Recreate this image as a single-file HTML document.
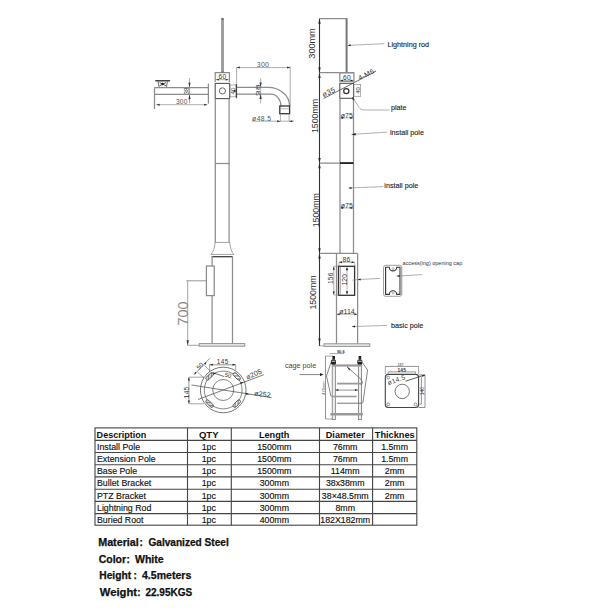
<!DOCTYPE html>
<html><head><meta charset="utf-8">
<style>
html,body{margin:0;padding:0;background:#fff;width:613px;height:613px;overflow:hidden}
svg{position:absolute;left:0;top:0;display:block}
text{font-family:"Liberation Sans",sans-serif}
</style></head><body>
<svg width="613" height="613" viewBox="0 0 613 613">
<rect width="613" height="613" fill="#fff"/>

<!-- ============ LEFT DRAWING ============ -->
<g id="A" fill="none" stroke="#8c8c8c" stroke-width="1.25">
  <!-- lightning rod -->
  <rect x="221.4" y="18.2" width="2.3" height="54.3" fill="#9a9a9a" stroke="#888" stroke-width="0.5"/>
  <rect x="221.5" y="18.2" width="2.1" height="1.8" rx="0.9" fill="#666" stroke="none"/>
  <!-- cap 60 -->
  <path d="M215.2 82 V72.6 H229.4 V82"/>
  <line x1="216" y1="79.7" x2="228.6" y2="79.7" stroke-width="0.7"/>
  <!-- bracket block -->
  <rect x="215.2" y="83.4" width="14.4" height="15.2" stroke="#555" stroke-width="1.1"/>
  <circle cx="222.4" cy="90.9" r="3.1" stroke="#555" stroke-width="0.9"/>
  <!-- upper pole -->
  <line x1="215.3" y1="98.6" x2="215.3" y2="242.4"/>
  <line x1="229.1" y1="98.6" x2="229.1" y2="242.4"/>
  <line x1="215.3" y1="163.5" x2="229.4" y2="163.5"/>
  <!-- flare -->
  <path d="M215 242.4 H229.7 Q230.5 251 234 254.4 H210.9 Q214.5 251 215 242.4 Z" stroke-width="0.8"/>
  <line x1="211.8" y1="256.7" x2="232.8" y2="256.7" stroke="#333" stroke-width="1.2"/>
  <!-- base pole -->
  <line x1="212.1" y1="256" x2="212.1" y2="343.6"/>
  <line x1="232.5" y1="256" x2="232.5" y2="343.6"/>
  <rect x="206.4" y="266" width="7.8" height="29.6" fill="#fff"/>
  <rect x="199.2" y="343.6" width="45.6" height="2.6" fill="#e6e6e6" stroke-width="0.9"/>
  <!-- 700 dim -->
  <line x1="186.4" y1="280.8" x2="206.4" y2="280.8" stroke-width="0.9"/>
  <line x1="187.7" y1="280.8" x2="187.7" y2="345.3" stroke-width="0.8"/>
  <line x1="187.4" y1="345.3" x2="199.2" y2="345.3" stroke-width="0.8"/>
  <!-- left arm -->
  <line x1="154.4" y1="87.5" x2="208.2" y2="87.5"/>
  <line x1="154.4" y1="94.4" x2="208.2" y2="94.4"/>
  <line x1="208.4" y1="83.6" x2="208.4" y2="103.6"/>
  <line x1="154.5" y1="87.5" x2="154.5" y2="109"/>
  <path d="M158 81.4 L159.1 87 M167.4 81.4 L166.5 87" stroke="#444" stroke-width="0.8"/>
  <line x1="155.8" y1="80.8" x2="169.5" y2="80.8" stroke="#444" stroke-width="1.5" stroke-linecap="round"/>
  <path d="M159.6 82.6 L166 85.8 M159.6 85.8 L166 82.6" stroke="#444" stroke-width="0.9"/>
  <line x1="156.4" y1="104.7" x2="207.3" y2="104.7" stroke-width="0.7"/>
  <line x1="189.5" y1="78" x2="189.5" y2="103.4" stroke-width="0.7"/>
  <!-- side block 40 -->
  <rect x="230" y="85" width="5.9" height="11.8" stroke-width="0.7"/>
  <line x1="236.5" y1="84" x2="236.5" y2="98.2" stroke="#444" stroke-width="1.2"/>
  <!-- right arm -->
  <line x1="236.6" y1="67.6" x2="290.2" y2="67.6" stroke-width="0.7"/>
  <line x1="236.6" y1="67.6" x2="236.6" y2="83.6" stroke-width="0.7"/>
  <line x1="290.2" y1="66.2" x2="290.2" y2="106" stroke-width="0.7"/>
  <path d="M237 87.3 H268 A21.6 18.7 0 0 1 289.6 106"/>
  <path d="M237 94.1 H271 A9.9 11.9 0 0 1 280.9 106"/>
  <rect x="279.8" y="106" width="9.8" height="7.7" stroke="#333" stroke-width="1.3"/>
  <line x1="280" y1="108.8" x2="289.4" y2="108.8" stroke-width="0.6"/>
  <line x1="280.4" y1="113.7" x2="280.4" y2="121.4" stroke-width="0.7"/>
  <line x1="289.1" y1="113.7" x2="289.1" y2="121.4" stroke-width="0.7"/>
  <line x1="252" y1="121.2" x2="294" y2="121.2" stroke-width="0.7"/>
  <line x1="260.7" y1="78.2" x2="260.7" y2="103.4" stroke-width="0.7"/>
</g>
<!-- arrowheads A -->
<g fill="#333" stroke="none">
  <path d="M156.4 104.7 l3.2 -1 v2 z"/><path d="M207.3 104.7 l-3.2 -1 v2 z"/>
  <path d="M189.5 87.5 l-1.1 -4.8 h2.2 z"/><path d="M189.5 94.4 l-1.1 4.8 h2.2 z"/>
  <path d="M236.6 67.6 l3.2 -1 v2 z"/><path d="M290.2 67.6 l-3.2 -1 v2 z"/>
  <path d="M260.6 87.3 l-1.1 -4.8 h2.2 z"/><path d="M260.6 94.1 l-1.1 4.8 h2.2 z"/>
  <path d="M280.4 121.2 l-3.2 -1 v2 z"/><path d="M289.1 121.2 l3.2 -1 v2 z"/>
  <path d="M187.7 345.3 l-1.2 -5 h2.4 z"/>
  <path d="M216 79.7 l3 -0.9 v1.8 z"/><path d="M228.6 79.7 l-3 -0.9 v1.8 z"/>
  <path d="M236.4 91 l-2.5 -1.2 v2.4 z" fill="#222"/>
  <path d="M222.6 72.6 l-1.2 -0.9 h2.4 z"/>
  <circle cx="162.6" cy="84" r="1.3" fill="#222"/>
</g>
<g fill="#555" font-size="7">
  <text fill="#333" x="222.4" y="78.5" text-anchor="middle" font-size="6.6" letter-spacing="0.3">60</text>
  <text x="263" y="67.3" text-anchor="middle" font-size="7" letter-spacing="0.2">300</text>
  <text x="181.8" y="104.3" text-anchor="middle" font-size="6.6" letter-spacing="0.2">300</text>
  <text x="261.8" y="120.8" text-anchor="middle" font-size="6.8" letter-spacing="0.4">ø48.5</text>
  <text transform="translate(188.2,313.6) rotate(-90)" text-anchor="middle" font-size="14.4" fill="#8a8a8a">700</text>
  <text transform="translate(189,90.9) rotate(-90)" text-anchor="middle" font-size="6.3" fill="#444">38</text>
  <text transform="translate(259.8,90.2) rotate(-90)" text-anchor="middle" font-size="6" textLength="12" lengthAdjust="spacingAndGlyphs" fill="#444">38</text>
  <text fill="#333" transform="translate(235.3,91) rotate(-90)" text-anchor="middle" font-size="6.2">40</text>
</g>

<!-- ============ RIGHT DRAWING ============ -->
<g id="B" fill="none" stroke="#8c8c8c" stroke-width="1.25">
  <!-- main dim line -->
  <line x1="319.5" y1="18.6" x2="319.5" y2="346" stroke="#333" stroke-width="1.1"/>
  <line x1="319.5" y1="18.6" x2="347.4" y2="18.6"/>
  <line x1="346.6" y1="18.6" x2="346.6" y2="72.6" stroke="#777" stroke-width="2"/>
  <line x1="319.5" y1="72.7" x2="354" y2="72.7"/>
  <line x1="347.6" y1="45.4" x2="384.4" y2="43.7" stroke-width="0.7"/>
  <!-- cap & bracket -->
  <rect x="339.8" y="72.8" width="14.1" height="8.5"/>
  <line x1="340.5" y1="80.4" x2="353.2" y2="80.4" stroke-width="0.6"/>
  <rect x="339.8" y="83.3" width="13.7" height="15" stroke="#555" stroke-width="1.1"/>
  <circle cx="346.3" cy="91.1" r="2.6" stroke="#333"/>
  <rect x="353.9" y="84.6" width="6.8" height="11.7" stroke-width="0.7"/>
  <line x1="323.5" y1="98.6" x2="376" y2="71.2" stroke="#444" stroke-width="0.8"/>
  <path d="M352.2 97 L357.2 104.2 Q359.5 110 364 110 H389.4" stroke-width="0.7"/>
  <!-- upper poles -->
  <line x1="340" y1="98.3" x2="340" y2="253.4"/>
  <line x1="353.5" y1="98.3" x2="353.5" y2="253.4"/>
  <line x1="319.5" y1="163.1" x2="353.5" y2="163.1"/>
  <line x1="340" y1="163.1" x2="353.5" y2="163.1" stroke="#222" stroke-width="1.8"/>
  <line x1="340.5" y1="117.9" x2="353" y2="117.9" stroke-width="0.6"/>
  <line x1="340.5" y1="208" x2="353" y2="208" stroke-width="0.6"/>
  <path d="M351.5 134.4 L386.9 132.2" stroke-width="0.7"/>
  <path d="M348.5 188 L383.3 186.6" stroke-width="0.7"/>
  <!-- base pole -->
  <line x1="319.5" y1="253.4" x2="357.7" y2="253.4"/>
  <line x1="336.5" y1="253.4" x2="336.5" y2="343.8"/>
  <line x1="357.6" y1="253.4" x2="357.6" y2="343.8"/>
  <line x1="339" y1="262.2" x2="339" y2="266.3" stroke-width="0.6"/>
  <line x1="354.6" y1="262.2" x2="354.6" y2="266.3" stroke-width="0.6"/>
  <line x1="339" y1="262.2" x2="354.6" y2="262.2" stroke-width="0.7"/>
  <rect x="338.5" y="266.3" width="16.1" height="29" stroke="#333" stroke-width="1.3"/>
  <line x1="340.3" y1="266.8" x2="340.3" y2="294.8" stroke-width="0.8"/>
  <line x1="333.8" y1="266.3" x2="333.8" y2="295" stroke-width="0.7"/>
  <line x1="333.8" y1="266.3" x2="338.5" y2="266.3" stroke-width="0.6"/>
  <line x1="333.8" y1="295" x2="338.5" y2="295" stroke-width="0.6"/>
  <line x1="347" y1="268" x2="347" y2="293.5" stroke-width="0.6"/>
  <line x1="336.7" y1="314.2" x2="357.4" y2="314.2" stroke-width="0.7"/>
  <path d="M352.5 280.2 L357.6 279.6 L380.1 278.4" stroke-width="0.7"/>
  <path d="M352 326.6 L387 325.4" stroke-width="0.7"/>
  <rect x="324.1" y="343.8" width="45.7" height="2.6" fill="#e6e6e6" stroke-width="0.9"/>
  <line x1="319.5" y1="345.8" x2="324.1" y2="345.8" stroke-width="0.7"/>
  <!-- access cap -->
  <rect x="383.5" y="265.3" width="18.3" height="31" rx="2.2" stroke="#888" stroke-width="0.8"/>
  <path d="M385.6 267.2 H389.3 A3.7 3.7 0 0 0 396.7 267.2 H400 V294.4 H396.7 A3.7 3.7 0 0 0 389.3 294.4 H385.6 Z" stroke="#333" stroke-width="1.1"/>
  <circle cx="393" cy="268.6" r="1" stroke-width="0.6"/>
  <circle cx="393" cy="293" r="1" stroke-width="0.6"/>
  <line x1="401.2" y1="267" x2="401.2" y2="295" stroke="#aaa" stroke-width="1.2"/>
  <line x1="396.7" y1="276.1" x2="422.4" y2="274.6" stroke-width="0.7"/>
</g>
<g fill="#222" stroke="none">
  <path d="M319.5 18.8 l-1.2 5 h2.4 z"/><path d="M319.5 72.5 l-1.2 -5 h2.4 z"/>
  <path d="M319.5 73 l-1.2 5 h2.4 z"/><path d="M319.5 162.9 l-1.2 -5 h2.4 z"/>
  <path d="M319.5 163.3 l-1.2 5 h2.4 z"/><path d="M319.5 253.2 l-1.2 -5 h2.4 z"/>
  <path d="M319.5 253.6 l-1.2 5 h2.4 z"/><path d="M319.5 343.6 l-1.2 -5 h2.4 z"/>
  <path d="M347.6 45.4 l3 -1.1 v2 z"/>
  <path d="M352.2 97 l0.6 3.2 l1.6 -1 z"/>
  <path d="M351.5 134.4 l4.2 -1.3 v2.3 z"/><path d="M348.5 188 l3 -1.1 v2 z"/>
  <path d="M340.3 117.9 l2.8 -1 v2 z"/><path d="M353.2 117.9 l-2.8 -1 v2 z"/>
  <path d="M340.3 208 l2.8 -1 v2 z"/><path d="M353.2 208 l-2.8 -1 v2 z"/>
  <path d="M339.2 262.2 l2.8 -1 v2 z"/><path d="M354.4 262.2 l-2.8 -1 v2 z"/>
  <path d="M333.8 266.5 l-1 3.2 h2 z"/><path d="M333.8 294.8 l-1 -3.2 h2 z"/>
  <path d="M347 267 l-1.2 3.2 h2.4 z"/><path d="M347 294.5 l-1.2 -3.2 h2.4 z"/>
  <path d="M336.9 314.2 l2.8 -1 v2 z"/><path d="M357.2 314.2 l-2.8 -1 v2 z"/>
  <path d="M357.6 279.6 l3 -1.2 v2.2 z"/><path d="M396.7 276.1 l3 -1.2 v2.2 z"/>
  <path d="M352 326.6 l3 -1.1 v2 z"/>
  <path d="M340.3 80.4 l2.6 -0.9 v1.8 z"/><path d="M353.2 80.4 l-2.6 -0.9 v1.8 z"/>
</g>
<g fill="#333">
  <text transform="translate(315.3,43.5) rotate(-90)" text-anchor="middle" font-size="9.1">300mm</text>
  <text transform="translate(317.8,116) rotate(-90)" text-anchor="middle" font-size="8.8">1500mm</text>
  <text transform="translate(318.5,210.2) rotate(-90)" text-anchor="middle" font-size="8.8">1500mm</text>
  <text transform="translate(316.2,292.5) rotate(-90)" text-anchor="middle" font-size="8.8">1500mm</text>
  <g fill="#333">
  <text x="347" y="79.5" text-anchor="middle" font-size="6.6" letter-spacing="0.3">60</text>
  <text x="346.8" y="118" text-anchor="middle" font-size="7">ø75</text>
  <text x="346.8" y="208" text-anchor="middle" font-size="7">ø75</text>
  <text x="346.5" y="261.6" text-anchor="middle" font-size="6.8" letter-spacing="0.3">86</text>
  <text x="347" y="313.8" text-anchor="middle" font-size="7">ø114</text>
  <text transform="translate(333.3,278.2) rotate(-90)" text-anchor="middle" font-size="6.6" letter-spacing="0.2">156</text>
  <text transform="translate(347.4,279.8) rotate(-90)" text-anchor="middle" font-size="6.6" letter-spacing="0.2">120</text>
  <text transform="translate(359.9,90.5) rotate(-90)" text-anchor="middle" font-size="6">40</text>
  <text transform="translate(323.6,97.2) rotate(-25)" font-size="7.4" letter-spacing="0.3">ø35</text>
  <text transform="translate(359.8,80.6) rotate(-28)" font-size="7" letter-spacing="0.3">4-M6</text>
  </g>
  <g fill="#222" stroke="#222" stroke-width="0.12">
  <text x="387.5" y="47.3" font-size="7.2">Lightning rod</text>
  <text x="391" y="110.3" font-size="7.2">plate</text>
  <text x="390" y="134.7" font-size="7.2">install pole</text>
  <text x="384.3" y="187.7" font-size="7.2">install pole</text>
  <text x="391" y="328.2" font-size="7.2">basic pole</text>
  </g>
  <text x="402.6" y="265.4" font-size="5.5" fill="#333">access(ing) opening cap</text>
</g>

<!-- ============ BOTTOM DRAWINGS ============ -->
<defs>
  <pattern id="hatch" width="1.5" height="1.5" patternUnits="userSpaceOnUse" patternTransform="rotate(45)">
    <rect width="1.5" height="1.5" fill="#fff"/><line x1="0" y1="0" x2="0" y2="1.5" stroke="#333" stroke-width="0.9"/>
  </pattern>
</defs>
<g fill="none" stroke="#666" stroke-width="0.9">
  <circle cx="223.2" cy="390" r="22.8"/>
  <circle cx="223.2" cy="390" r="18.9" stroke-width="0.8"/>
  <circle cx="223.2" cy="390" r="10.5" stroke-width="0.8"/>
  <g stroke="#444" stroke-width="0.8" fill="url(#hatch)">
    <rect x="-4.6" y="-1.7" width="9.2" height="3.4" rx="1.7" transform="translate(209.6,376.4) rotate(-45)"/>
    <rect x="-4.6" y="-1.7" width="9.2" height="3.4" rx="1.7" transform="translate(236.8,376.4) rotate(45)"/>
    <rect x="-4.6" y="-1.7" width="9.2" height="3.4" rx="1.7" transform="translate(209.6,403.6) rotate(45)"/>
    <rect x="-4.6" y="-1.7" width="9.2" height="3.4" rx="1.7" transform="translate(236.8,403.6) rotate(-45)"/>
  </g>
  <line x1="209.6" y1="364.8" x2="235.7" y2="364.8" stroke-width="0.7"/>
  <line x1="209.6" y1="364.5" x2="209.6" y2="372" stroke-width="0.6"/>
  <line x1="235.7" y1="364.5" x2="235.7" y2="370" stroke-width="0.6"/>
  <line x1="188.9" y1="377.2" x2="188.9" y2="403.8" stroke-width="0.7"/>
  <line x1="188.9" y1="377.2" x2="204" y2="377.2" stroke-width="0.6"/>
  <line x1="188.9" y1="403.8" x2="204" y2="403.8" stroke-width="0.6"/>
  <line x1="194.2" y1="374.6" x2="209.8" y2="358.3" stroke-width="0.7"/>
  <line x1="197.4" y1="372" x2="204" y2="377.9" stroke-width="0.6"/>
  <line x1="204.6" y1="365.5" x2="210.5" y2="371.3" stroke-width="0.6"/>
  <line x1="198" y1="399.5" x2="263.8" y2="374.7" stroke="#444" stroke-width="0.7"/>
  <line x1="191.5" y1="385" x2="271.6" y2="397.6" stroke="#444" stroke-width="0.7"/>
  <line x1="212.5" y1="372.6" x2="224" y2="376.5" stroke="#333" stroke-width="0.7"/>
  <!-- cage -->
  <line x1="325.5" y1="356.1" x2="325.5" y2="419" stroke-width="0.7"/>
  <line x1="325.5" y1="356.1" x2="333" y2="356.1" stroke-width="0.6"/>
  <line x1="325.5" y1="419" x2="333" y2="419" stroke-width="0.6"/>
  <line x1="329.8" y1="353.6" x2="344" y2="353.6" stroke-width="0.6"/>
  <rect x="332.2" y="364.7" width="3.1" height="55" fill="#eee" stroke-width="0.7"/>
  <rect x="358.5" y="364.7" width="3.1" height="55" fill="#eee" stroke-width="0.7"/>
  <line x1="332.2" y1="365.5" x2="362.2" y2="365.5" stroke="#999" stroke-width="2.2"/>
  <line x1="337.1" y1="383.6" x2="362.2" y2="383.6" stroke="#999" stroke-width="1.8"/>
  <line x1="335.3" y1="390.1" x2="358" y2="390.1" stroke-width="0.7"/>
  <line x1="331.6" y1="396.5" x2="356.6" y2="396.5" stroke="#999" stroke-width="1.6"/>
  <line x1="337.1" y1="403.2" x2="362.2" y2="403.2" stroke-width="0.9"/>
  <line x1="330.4" y1="414.2" x2="362.8" y2="414.2" stroke="#999" stroke-width="2.5"/>
  <path d="M330.9 362.7 L326.5 376 L331 396.5" stroke-width="0.8"/>
  <path d="M362.5 362.7 L367.6 370 L362.8 403.2" stroke-width="0.8"/>
  <path d="M347 366.7 L361 379.3 Q364 383 361 385" stroke-width="0.8"/>
  <line x1="299.6" y1="374.6" x2="323.2" y2="374.6" stroke-width="0.8"/>
  <!-- square plate -->
  <rect x="385.3" y="374.4" width="33.3" height="33.1" rx="3" stroke="#444" stroke-width="1.1"/>
  <circle cx="402.2" cy="391.4" r="7.2" stroke-width="0.9"/>
  <circle cx="388.2" cy="377.6" r="1.4" stroke-width="0.7"/>
  <circle cx="388.2" cy="404.4" r="1.4" stroke-width="0.7"/>
  <circle cx="415.6" cy="404.4" r="1.4" stroke-width="0.7"/>
  <line x1="385.3" y1="366.4" x2="418.6" y2="366.4" stroke-width="0.7"/>
  <line x1="385.3" y1="366.4" x2="385.3" y2="374" stroke-width="0.6"/>
  <line x1="418.6" y1="366.4" x2="418.6" y2="374" stroke-width="0.6"/>
  <line x1="388" y1="371.9" x2="415.6" y2="371.9" stroke-width="0.7"/>
  <line x1="388" y1="371.9" x2="388" y2="375" stroke-width="0.6"/>
  <line x1="415.6" y1="371.9" x2="415.6" y2="375" stroke-width="0.6"/>
  <line x1="405.5" y1="381.2" x2="425" y2="374.9" stroke="#333" stroke-width="0.8"/>
  <line x1="421.4" y1="377" x2="421.4" y2="404.1" stroke-width="0.7"/>
  <line x1="418.6" y1="404.1" x2="421.4" y2="404.1" stroke-width="0.6"/>
  <path d="M418.6 374.9 H425 V407.5 H418.6" stroke-width="0.7"/>
</g>
<g fill="#222" stroke="none">
  <path d="M209.8 364.8 l3 -1 v2 z"/><path d="M235.5 364.8 l-3 -1 v2 z"/>
  <path d="M188.9 377.4 l-1 3 h2 z"/><path d="M188.9 403.6 l-1 -3 h2 z"/>
  <path d="M194.2 374.6 l1 -2.8 l1.3 1.3 z"/><path d="M206.4 361.9 l-1 2.8 l-1.3 -1.3 z"/>
  <path d="M216 373.6 l-2.8 -1 l0.6 1.9 z"/>
  <path d="M323.2 374.6 l-3.2 -1.6 v3.2 z"/>
  <path d="M335.5 390.1 l2.8 -1 v2 z"/><path d="M357.8 390.1 l-2.8 -1 v2 z"/>
  <path d="M332.4 356 h2.6 v3.6 h-2.6 z"/><path d="M358.6 356 h2.6 v3.6 h-2.6 z"/>
  <rect x="330.9" y="359.6" width="5.1" height="5" rx="1.5"/><rect x="357.3" y="359.6" width="5.1" height="5" rx="1.5"/>
  <rect x="331.6" y="360.8" width="3.8" height="0.8" fill="#fff"/><rect x="358" y="360.8" width="3.8" height="0.8" fill="#fff"/>
  <path d="M347 366.7 l3.2 2.2 l-1 1.3 z"/>
  <path d="M243.5 381.9 l-3.2 0.3 l0.8 1.9 z"/><path d="M249.4 394.3 l-3.2 -1.5 l-0.3 2 z"/>
  <path d="M425 374.9 l-3 0.4 l0.6 1.8 z"/>
</g>
<g fill="#333">
  <text x="222.8" y="363.8" text-anchor="middle" font-size="6.4" letter-spacing="0.4">145</text>
  <text transform="translate(189.3,392.4) rotate(-90)" text-anchor="middle" font-size="6.4" letter-spacing="0.3">145</text>
  <text transform="translate(201.5,367.6) rotate(-45)" text-anchor="middle" font-size="6.2">50</text>
  <text transform="translate(247.2,379.8) rotate(-24)" font-size="7" letter-spacing="0.2">ø205</text>
  <text transform="translate(254,395.6) rotate(6.5)" font-size="7" letter-spacing="0.2">ø252</text>
  <text transform="translate(224.2,376.5) rotate(15)" font-size="6">50</text>
  <text x="285" y="367.7" font-size="7.2" fill="#444">cage pole</text>
  <text x="340.8" y="353" text-anchor="middle" font-size="4" font-weight="bold">90.6</text>
  <text transform="translate(324.5,388) rotate(-90)" text-anchor="middle" font-size="4">470mm</text>
  <text x="400.6" y="366.2" text-anchor="middle" font-size="3.6">187</text>
  <text x="401.8" y="371.6" text-anchor="middle" font-size="4.8" font-weight="bold" letter-spacing="0.2">145</text>
  <text transform="translate(388.6,385.2) rotate(-20)" font-size="6.6" fill="#333" letter-spacing="0.3">ø14.5</text>
  <text transform="translate(423.8,391.2) rotate(-90)" text-anchor="middle" font-size="5">140</text>
</g>

<!-- ============ TABLE ============ -->
<g stroke="#444" stroke-width="1.1" fill="none">
  <rect x="95" y="427.9" width="321.8" height="97.3"/>
  <line x1="95" y1="440.4" x2="416.8" y2="440.4"/>
  <line x1="95" y1="452.5" x2="416.8" y2="452.5"/>
  <line x1="95" y1="464.7" x2="416.8" y2="464.7"/>
  <line x1="95" y1="476.9" x2="416.8" y2="476.9"/>
  <line x1="95" y1="489.2" x2="416.8" y2="489.2"/>
  <line x1="95" y1="501.4" x2="416.8" y2="501.4"/>
  <line x1="95" y1="513.6" x2="416.8" y2="513.6"/>
  <line x1="187.5" y1="427.9" x2="187.5" y2="525.2"/>
  <line x1="231.3" y1="427.9" x2="231.3" y2="525.2"/>
  <line x1="319.5" y1="427.9" x2="319.5" y2="525.2"/>
  <line x1="372.6" y1="427.9" x2="372.6" y2="525.2"/>
</g>
<g font-size="8.8" fill="#111" stroke="#111" stroke-width="0.15">
  <g font-weight="bold" font-size="9.5" stroke-width="0" lengthAdjust="spacingAndGlyphs">
    <text x="96.6" y="437.5" textLength="49.8" lengthAdjust="spacingAndGlyphs">Description</text>
    <text x="198.9" y="437.5" textLength="19.6" lengthAdjust="spacingAndGlyphs">QTY</text>
    <text x="258.9" y="437.5" textLength="30.6" lengthAdjust="spacingAndGlyphs">Length</text>
    <text x="325.8" y="437.5" textLength="38.9" lengthAdjust="spacingAndGlyphs">Diameter</text>
    <text x="374.8" y="437.5" textLength="39.9" lengthAdjust="spacingAndGlyphs">Thicknes</text>
  </g>
  <text x="97" y="449.6">Install Pole</text>
  <text x="97" y="461.8">Extension Pole</text>
  <text x="97" y="474">Base Pole</text>
  <text x="97" y="486.2">Bullet Bracket</text>
  <text x="97" y="498.5">PTZ Bracket</text>
  <text x="97" y="510.7">Lightning Rod</text>
  <text x="97" y="523">Buried Root</text>
  <g text-anchor="middle">
    <text x="208.8" y="449.6">1pc</text><text x="208.8" y="461.8">1pc</text><text x="208.8" y="474">1pc</text><text x="208.8" y="486.2">1pc</text><text x="208.8" y="498.5">1pc</text><text x="208.8" y="510.7">1pc</text><text x="208.8" y="523">1pc</text>
    <text x="274.3" y="449.6">1500mm</text><text x="274.3" y="461.8">1500mm</text><text x="274.3" y="474">1500mm</text><text x="274.3" y="486.2">300mm</text><text x="274.3" y="498.5">300mm</text><text x="274.3" y="510.7">300mm</text><text x="274.3" y="523">400mm</text>
    <text x="345.2" y="449.6">76mm</text><text x="345.2" y="461.8">76mm</text><text x="345.2" y="474">114mm</text><text x="345.2" y="486.2">38x38mm</text><text x="345.2" y="498.5">38×48.5mm</text><text x="345.2" y="510.7">8mm</text><text x="345.2" y="523">182X182mm</text>
    <text x="394.6" y="449.6">1.5mm</text><text x="394.6" y="461.8">1.5mm</text><text x="394.6" y="474">2mm</text><text x="394.6" y="486.2">2mm</text><text x="394.6" y="498.5">2mm</text>
  </g>
</g>

<!-- ============ SPECS ============ -->
<g font-size="10" font-weight="bold" fill="#111" stroke="#111" stroke-width="0.25">
  <text x="98.2" y="545.7" textLength="40.6" lengthAdjust="spacingAndGlyphs">Material</text>
  <text x="139.6" y="545.7">:</text>
  <text x="148.4" y="545.7" textLength="80.4" lengthAdjust="spacingAndGlyphs">Galvanized Steel</text>
  <text x="98.7" y="563.2" textLength="27.4" lengthAdjust="spacingAndGlyphs">Color</text>
  <text x="126.4" y="563.2">:</text>
  <text x="134.9" y="563.2" textLength="28.8" lengthAdjust="spacingAndGlyphs">White</text>
  <text x="99.3" y="578.9" textLength="31.8" lengthAdjust="spacingAndGlyphs">Height</text>
  <text x="133.5" y="578.9">:</text>
  <text x="142" y="578.9" textLength="49.3" lengthAdjust="spacingAndGlyphs">4.5meters</text>
  <text x="99.8" y="596" textLength="37.2" lengthAdjust="spacingAndGlyphs">Weight</text>
  <text x="137.2" y="596">:</text>
  <text x="145.4" y="596" textLength="46.8" lengthAdjust="spacingAndGlyphs">22.95KGS</text>
</g>
</svg>
</body></html>
